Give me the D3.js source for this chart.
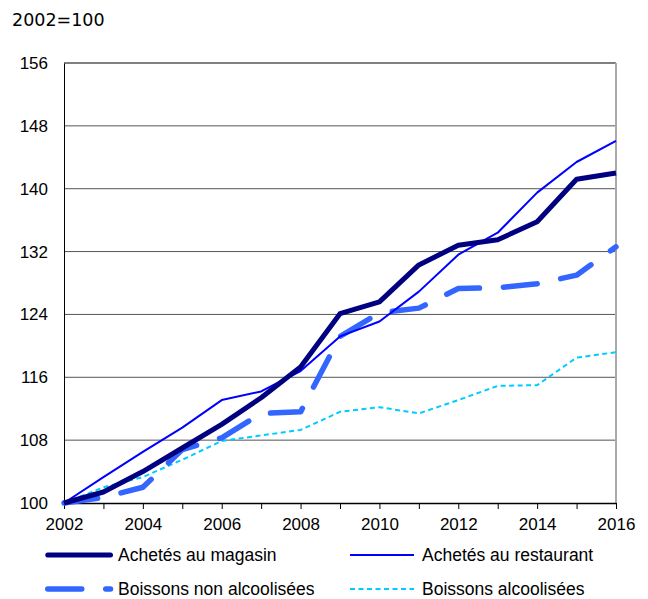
<!DOCTYPE html>
<html lang="fr">
<head>
  <meta charset="UTF-8">
  <title>Indice des prix 2002=100</title>
  <script src="https://d3js.org/d3.v7.min.js"></script>
  <style>
    body { margin: 0; background: #fff; }
  </style>
</head>
<body>
  <div id="my_dataviz"></div>
  <script>
    // Data
    var years = [2002, 2003, 2004, 2005, 2006, 2007, 2008, 2009, 2010, 2011, 2012, 2013, 2014, 2015, 2016];
    var magasin = [100, 101.4, 104.0, 107.0, 110.0, 113.4, 117.3, 124.1, 125.6, 130.3, 132.8, 133.5, 135.8, 141.2, 142.0];
    var restaurant = [100, 103.3, 106.5, 109.6, 113.1, 114.2, 116.8, 121.2, 123.1, 126.9, 131.6, 134.4, 139.5, 143.4, 146.1];
    var nonAlcool = [100, 100.7, 102.0, 106.8, 108.3, 111.4, 111.6, 121.2, 124.2, 124.8, 127.3, 127.4, 127.9, 129.0, 132.6];
    var alcool = [100, 102.0, 103.3, 105.5, 107.9, 108.6, 109.3, 111.6, 112.2, 111.4, 113.1, 114.9, 115.0, 118.5, 119.2];
    var yTicks = [100, 108, 116, 124, 132, 140, 148, 156];
    var xLabels = [2002, 2004, 2006, 2008, 2010, 2012, 2014, 2016];

    var series = [
      {name: "Achetés au magasin", values: magasin, color: "#000080", width: 5, dash: null},
      {name: "Achetés au restaurant", values: restaurant, color: "#0000ff", width: 2, dash: null},
      {name: "Boissons non alcoolisées", values: nonAlcool, color: "#3366ff", width: 5.5, dash: "34,24"},
      {name: "Boissons alcoolisées", values: alcool, color: "#00ccff", width: 2, dash: "5,3.5"}
    ];

    var margin = {top: 63, right: 32, bottom: 96, left: 64},
        width = 648 - margin.left - margin.right,
        height = 599 - margin.top - margin.bottom;

    var tickFont = "Arial, 'Liberation Sans', sans-serif";

    var root = d3.select("#my_dataviz")
      .append("svg")
        .attr("width", 648)
        .attr("height", 599);

    var svg = root.append("g")
        .attr("transform", "translate(" + margin.left + "," + margin.top + ")");

    var x = d3.scaleLinear().domain([2002, 2016]).range([0, width]);
    var y = d3.scaleLinear().domain([100, 156]).range([height, 0]);

    // unit label
    root.append("text")
      .attr("x", 12)
      .attr("y", 26)
      .style("font-family", "Verdana, 'DejaVu Sans', sans-serif")
      .style("font-size", "17.5px")
      .text("2002=100");

    // horizontal gridlines
    svg.selectAll(".grid")
      .data(yTicks.slice(1))
      .enter().append("line")
        .attr("x1", 0).attr("x2", width)
        .attr("y1", function(d) { return y(d); })
        .attr("y2", function(d) { return y(d); })
        .attr("stroke", function(d) { return d === 156 ? "#000" : "#555"; })
        .attr("stroke-width", 1);

    // right border
    svg.append("line")
      .attr("x1", width).attr("x2", width)
      .attr("y1", 0).attr("y2", height)
      .attr("stroke", "#aaa").attr("stroke-width", 2);

    // Y axis
    var yAxis = svg.append("g")
      .call(d3.axisLeft(y).tickValues(yTicks).tickSize(0).tickPadding(16));
    yAxis.select(".domain").attr("stroke", "#000");
    yAxis.selectAll("text")
      .style("font-family", tickFont)
      .style("font-size", "17px")
      .attr("fill", "#000");

    // X axis
    var xAxis = svg.append("g")
      .attr("transform", "translate(0," + height + ")")
      .call(d3.axisBottom(x).tickValues(years).tickSize(6).tickSizeOuter(0).tickPadding(9)
        .tickFormat(function(d) { return xLabels.indexOf(d) >= 0 ? d : ""; }));
    xAxis.select(".domain").attr("stroke", "#000").attr("stroke-width", 1.5);
    xAxis.selectAll("line").attr("stroke", "#000");
    xAxis.selectAll("text")
      .style("font-family", tickFont)
      .style("font-size", "17px")
      .attr("fill", "#000");

    // lines
    var line = d3.line()
      .x(function(d, i) { return x(years[i]); })
      .y(function(d) { return y(d); });

    var drawOrder = [series[3], series[2], series[1], series[0]];
    svg.selectAll(".series")
      .data(drawOrder)
      .enter().append("path")
        .attr("fill", "none")
        .attr("stroke", function(d) { return d.color; })
        .attr("stroke-width", function(d) { return d.width; })
        .attr("stroke-dasharray", function(d) { return d.dash; })
        .attr("stroke-linecap", function(d) { return d.dash && d.width > 3 ? "round" : "butt"; })
        .attr("stroke-linejoin", "round")
        .attr("d", function(d) { return line(d.values); });

    // legend: two columns, two rows
    var legendPos = [[45, 555], [350, 555], [45, 589], [350, 589]];
    var legend = root.selectAll(".legend")
      .data(series)
      .enter().append("g")
        .attr("transform", function(d, i) { return "translate(" + legendPos[i][0] + "," + legendPos[i][1] + ")"; });

    legend.append("line")
      .attr("x1", function(d) { return d.width > 3 ? 2.75 : 0; })
      .attr("x2", function(d, i) { return i % 2 === 0 ? 65.5 : 64; })
      .attr("y1", 0).attr("y2", 0)
      .attr("stroke", function(d) { return d.color; })
      .attr("stroke-width", function(d) { return d.width; })
      .attr("stroke-dasharray", function(d) { return d.dash; })
      .attr("stroke-linecap", function(d) { return d.width > 3 ? "round" : "butt"; });

    legend.append("text")
      .attr("x", function(d, i) { return i % 2 === 0 ? 73 : 72; })
      .attr("y", 6.3)
      .style("font-family", "Arial, 'Liberation Sans', sans-serif")
      .style("font-size", "17.5px")
      .text(function(d) { return d.name; });
  </script>
</body>
</html>
